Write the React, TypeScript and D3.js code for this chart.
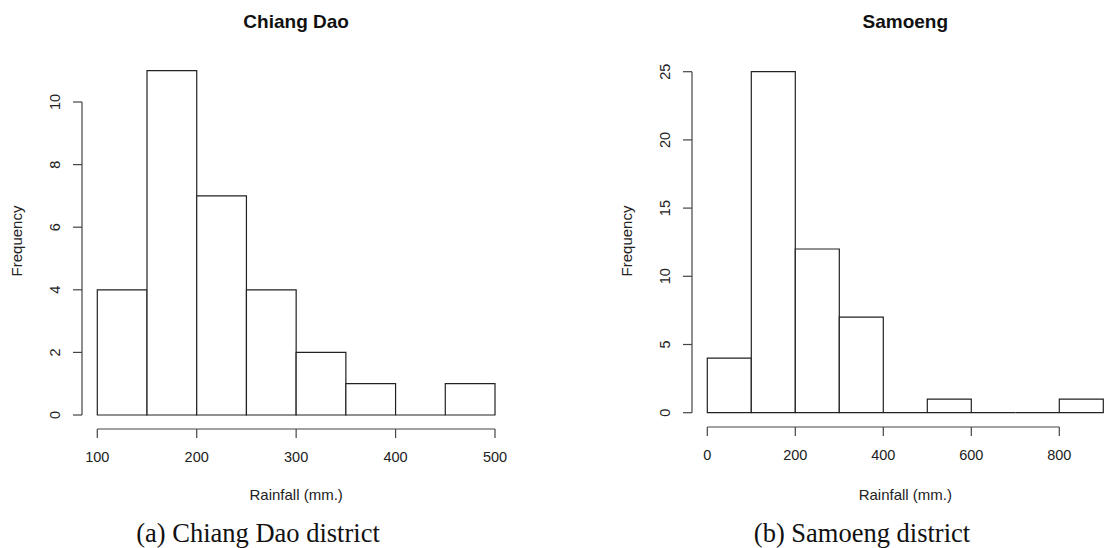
import React, { useEffect, useRef } from "react";
import * as d3 from "d3";

// Chiang Dao histogram (bins of 50 mm)
const cdBreaks = [100, 150, 200, 250, 300, 350, 400, 450, 500];
const cdCounts = [4, 11, 7, 4, 2, 1, 0, 1];
const cdXTicks = [100, 200, 300, 400, 500];
const cdYTicks = [0, 2, 4, 6, 8, 10];

// Samoeng histogram (bins of 100 mm)
const saBreaks = [0, 100, 200, 300, 400, 500, 600, 700, 800, 900];
const saCounts = [4, 25, 12, 7, 0, 1, 0, 0, 1];
const saXTicks = [0, 200, 400, 600, 800];
const saYTicks = [0, 5, 10, 15, 20, 25];

const FONT = "'Liberation Sans', Arial, sans-serif";
const SERIF = "'Liberation Serif', 'Times New Roman', serif";
const INK = "#222";
const AXIS = "#444";

const App = () => {
	const svgRef = useRef(null);

	useEffect(() => {
		drawChart();
	}, []);

	const drawHist = (svg, opts) => {
		const { breaks, counts, xTicks, yTicks, xRange, yRange, axisX, axisY, title, caption, captionX } = opts;

		const x = d3.scaleLinear().domain([breaks[0], breaks[breaks.length - 1]]).range(xRange);
		const y = d3.scaleLinear().domain([0, yTicks[yTicks.length - 1]]).range(yRange);
		const g = svg.append("g");

		// bars (paths so empty bins still show as a baseline segment)
		g.selectAll("path.bar")
			.data(counts)
			.enter()
			.append("path")
			.attr("class", "bar")
			.attr("d", (d, i) => {
				const x0 = x(breaks[i]);
				const x1 = x(breaks[i + 1]);
				return `M${x0},${y(0)}V${y(d)}H${x1}V${y(0)}Z`;
			})
			.attr("fill", "white")
			.attr("stroke", INK)
			.attr("stroke-width", 1.2);

		// y axis
		g.append("line")
			.attr("x1", axisX).attr("x2", axisX)
			.attr("y1", y(yTicks[0])).attr("y2", y(yTicks[yTicks.length - 1]))
			.attr("stroke", AXIS).attr("stroke-width", 1.2);
		yTicks.forEach((t) => {
			g.append("line")
				.attr("x1", axisX - 9).attr("x2", axisX)
				.attr("y1", y(t)).attr("y2", y(t))
				.attr("stroke", AXIS).attr("stroke-width", 1.2);
			g.append("text")
				.attr("transform", `translate(${axisX - 27},${y(t)}) rotate(-90)`)
				.attr("text-anchor", "middle")
				.attr("dy", "0.35em")
				.attr("font-family", FONT)
				.attr("font-size", 14.5)
				.attr("fill", INK)
				.text(t);
		});

		// x axis
		g.append("line")
			.attr("x1", x(xTicks[0])).attr("x2", x(xTicks[xTicks.length - 1]))
			.attr("y1", axisY).attr("y2", axisY)
			.attr("stroke", AXIS).attr("stroke-width", 1.2);
		xTicks.forEach((t) => {
			g.append("line")
				.attr("x1", x(t)).attr("x2", x(t))
				.attr("y1", axisY).attr("y2", axisY + 9)
				.attr("stroke", AXIS).attr("stroke-width", 1.2);
			g.append("text")
				.attr("x", x(t))
				.attr("y", axisY + 28)
				.attr("text-anchor", "middle")
				.attr("dy", "0.35em")
				.attr("font-family", FONT)
				.attr("font-size", 14.5)
				.attr("fill", INK)
				.text(t);
		});

		// plot region centre
		const span = breaks[breaks.length - 1] - breaks[0];
		const cx = x(breaks[0] + span / 2);

		g.append("text")
			.attr("x", cx).attr("y", 21)
			.attr("text-anchor", "middle")
			.attr("dy", "0.35em")
			.attr("font-family", FONT)
			.attr("font-weight", "bold")
			.attr("font-size", 19)
			.attr("fill", "#111")
			.text(title);

		g.append("text")
			.attr("x", cx).attr("y", 495)
			.attr("text-anchor", "middle")
			.attr("dy", "0.35em")
			.attr("font-family", FONT)
			.attr("font-size", 15)
			.attr("fill", INK)
			.text("Rainfall (mm.)");

		g.append("text")
			.attr("transform", `translate(${axisX - 65},241) rotate(-90)`)
			.attr("text-anchor", "middle")
			.attr("dy", "0.35em")
			.attr("font-family", FONT)
			.attr("font-size", 15)
			.attr("fill", INK)
			.text("Frequency");

		g.append("text")
			.attr("x", captionX).attr("y", 533)
			.attr("text-anchor", "middle")
			.attr("dy", "0.35em")
			.attr("font-family", SERIF)
			.attr("font-size", 26.5)
			.attr("fill", "#111")
			.text(caption);
	};

	const drawChart = () => {
		d3.select(svgRef.current).selectAll("*").remove();
		const svg = d3.select(svgRef.current);

		drawHist(svg, {
			breaks: cdBreaks,
			counts: cdCounts,
			xTicks: cdXTicks,
			yTicks: cdYTicks,
			xRange: [97.3, 495],
			yRange: [415, 102],
			axisX: 82,
			axisY: 429,
			title: "Chiang Dao",
			caption: "(a) Chiang Dao district",
			captionX: 258,
		});

		drawHist(svg, {
			breaks: saBreaks,
			counts: saCounts,
			xTicks: saXTicks,
			yTicks: saYTicks,
			xRange: [707.3, 1103.3],
			yRange: [412.7, 71.7],
			axisX: 692,
			axisY: 427,
			title: "Samoeng",
			caption: "(b) Samoeng district",
			captionX: 862,
		});
	};

	return (
		<div style={{ position: "absolute", left: 0, top: 0 }}>
			<svg ref={svgRef} width={1110} height={548} style={{ display: "block", background: "white" }}></svg>
		</div>
	);
};

export default App;
